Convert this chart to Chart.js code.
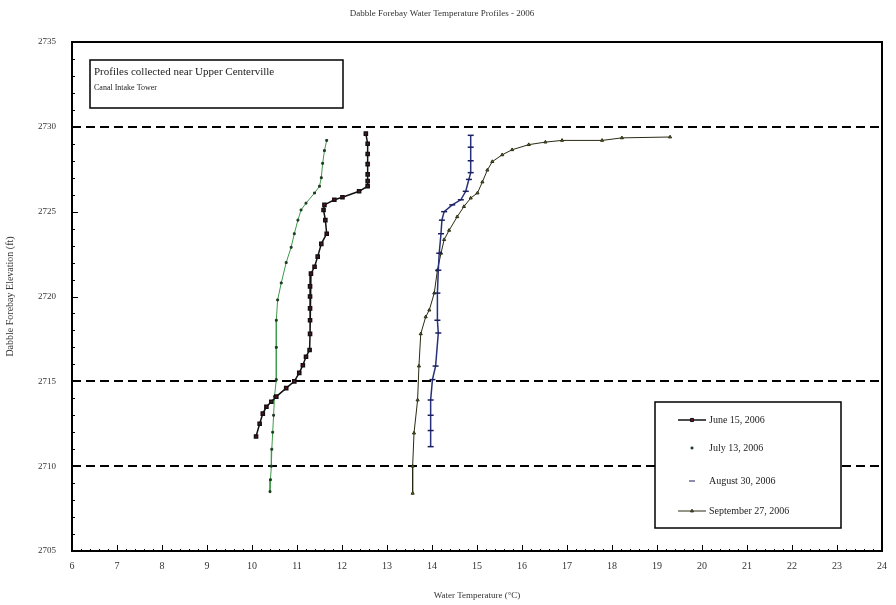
<!DOCTYPE html>
<html>
<head>
<meta charset="utf-8">
<script src="https://cdn.jsdelivr.net/npm/chart.js@4.4.1/dist/chart.umd.min.js"></script>
<style>
  html, body { margin: 0; padding: 0; background: #fff; }
  #wrap { width: 896px; height: 605px; }
</style>
</head>
<body>
<div id="wrap"><canvas id="chart" width="896" height="605"></canvas></div>
<script>
// Profils de température
var juneTemp = [12.53, 12.57, 12.57, 12.57, 12.57, 12.57, 12.57, 12.38, 12.01, 11.83, 11.61, 11.59, 11.63, 11.66, 11.54, 11.46, 11.39, 11.31, 11.29, 11.29, 11.29, 11.29, 11.29, 11.28, 11.20, 11.13, 11.05, 10.94, 10.76, 10.54, 10.43, 10.32, 10.24, 10.17, 10.09];
var juneElev = [2729.6, 2729.0, 2728.4, 2727.8, 2727.2, 2726.8, 2726.5, 2726.2, 2725.85, 2725.7, 2725.4, 2725.1, 2724.5, 2723.7, 2723.1, 2722.35, 2721.75, 2721.35, 2720.6, 2720.0, 2719.3, 2718.6, 2717.8, 2716.85, 2716.45, 2715.95, 2715.5, 2715.0, 2714.6, 2714.1, 2713.8, 2713.5, 2713.1, 2712.5, 2711.75];

var julyTemp = [11.66, 11.61, 11.57, 11.54, 11.50, 11.39, 11.20, 11.09, 11.02, 10.94, 10.87, 10.76, 10.65, 10.57, 10.54, 10.54, 10.54, 10.50, 10.48, 10.46, 10.44, 10.43, 10.41, 10.40];
var julyElev = [2729.2, 2728.6, 2727.85, 2727.0, 2726.5, 2726.1, 2725.5, 2725.1, 2724.5, 2723.7, 2722.9, 2722.0, 2720.8, 2719.8, 2718.6, 2717.0, 2715.1, 2714.1, 2713.0, 2712.0, 2711.0, 2710.0, 2709.2, 2708.5];

var augTemp = [14.86, 14.86, 14.86, 14.86, 14.82, 14.75, 14.64, 14.45, 14.27, 14.22, 14.20, 14.16, 14.14, 14.12, 14.12, 14.14, 14.08, 14.01, 13.97, 13.97, 13.97, 13.97];
var augElev = [2729.5, 2728.8, 2728.0, 2727.3, 2726.9, 2726.2, 2725.7, 2725.4, 2725.0, 2724.5, 2723.7, 2722.55, 2721.55, 2720.2, 2718.6, 2717.85, 2715.9, 2715.1, 2713.9, 2713.0, 2712.1, 2711.15];

var septTemp = [19.29, 18.22, 17.78, 16.89, 16.52, 16.15, 15.78, 15.56, 15.34, 15.23, 15.12, 15.01, 14.86, 14.71, 14.56, 14.38, 14.27, 14.20, 14.12, 14.05, 13.94, 13.86, 13.75, 13.71, 13.68, 13.60, 13.57, 13.57];
var septElev = [2729.4, 2729.35, 2729.2, 2729.2, 2729.1, 2728.95, 2728.65, 2728.35, 2727.95, 2727.45, 2726.75, 2726.1, 2725.8, 2725.3, 2724.7, 2723.9, 2723.35, 2722.55, 2721.55, 2720.2, 2719.2, 2718.8, 2717.8, 2715.9, 2713.9, 2711.95, 2710.0, 2708.4];

var seriesNames = ['June 15, 2006', 'July 13, 2006', 'August 30, 2006', 'September 27, 2006'];
var dashedLevels = [2730, 2715, 2710];
var noteLines = ['Profiles collected near Upper Centerville', 'Canal Intake Tower'];

function toPoints(xs, ys) {
    var pts = [];
    for (var i = 0; i < xs.length; i++) {
        pts.push({ x: xs[i], y: ys[i] });
    }
    return pts;
}

var serif = "'Liberation Serif', 'DejaVu Serif', serif";

// Lignes pointillées, graduations, cadre, note et légende
var extras = {
    id: 'extras',
    beforeDatasetsDraw: function (chart) {
        var ctx = chart.ctx, a = chart.chartArea, ys = chart.scales.y;
        ctx.save();
        ctx.strokeStyle = '#000';
        ctx.lineWidth = 2;
        ctx.setLineDash([9, 5]);
        dashedLevels.forEach(function (lv) {
            var py = Math.round(ys.getPixelForValue(lv));
            ctx.beginPath();
            ctx.moveTo(a.left, py);
            ctx.lineTo(a.right, py);
            ctx.stroke();
        });
        ctx.restore();
    },
    afterDatasetsDraw: function (chart) {
        var ctx = chart.ctx, a = chart.chartArea;
        var xs = chart.scales.x, ys = chart.scales.y;
        ctx.save();
        ctx.strokeStyle = '#000';

        // graduations mineures et majeures
        ctx.lineWidth = 1;
        for (var v = 2705; v <= 2735; v++) {
            var py = Math.round(ys.getPixelForValue(v)) + 0.5;
            var len = (v % 5 === 0) ? 6 : 3;
            ctx.beginPath();
            ctx.moveTo(a.left, py);
            ctx.lineTo(a.left + len, py);
            ctx.stroke();
        }
        for (var k = 0; k <= 90; k++) {
            var t = 6 + k * 0.2;
            var px = Math.round(xs.getPixelForValue(t)) + 0.5;
            var l2 = (k % 5 === 0) ? 6 : 2;
            ctx.beginPath();
            ctx.moveTo(px, a.bottom);
            ctx.lineTo(px, a.bottom - l2);
            ctx.stroke();
        }

        // cadre
        ctx.lineWidth = 2;
        ctx.strokeRect(a.left, a.top, a.right - a.left, a.bottom - a.top);

        // note
        ctx.fillStyle = '#fff';
        ctx.fillRect(90, 60, 253, 48);
        ctx.lineWidth = 1.5;
        ctx.strokeRect(90, 60, 253, 48);
        ctx.fillStyle = '#222';
        ctx.textBaseline = 'middle';
        ctx.textAlign = 'left';
        ctx.font = '11px ' + serif;
        ctx.fillText(noteLines[0], 94, 72);
        ctx.font = '8px ' + serif;
        ctx.fillText(noteLines[1], 94, 88);

        // légende
        ctx.fillStyle = '#fff';
        ctx.fillRect(655, 402, 186, 126);
        ctx.lineWidth = 1.5;
        ctx.strokeStyle = '#000';
        ctx.strokeRect(655, 402, 186, 126);
        var rows = [420, 448, 481, 511];
        chart.data.datasets.forEach(function (ds, i) {
            var yy = rows[i];
            if (ds.legendLine) {
                ctx.strokeStyle = ds.borderColor;
                ctx.lineWidth = ds.borderWidth;
                ctx.beginPath();
                ctx.moveTo(678, yy);
                ctx.lineTo(706, yy);
                ctx.stroke();
            }
            ctx.fillStyle = ds.pointBackgroundColor;
            ctx.strokeStyle = ds.pointBorderColor;
            ctx.lineWidth = 1;
            Chart.helpers.drawPoint(ctx, {
                pointStyle: ds.pointStyle,
                radius: ds.pointRadius,
                borderWidth: 1
            }, 692, yy);
            ctx.fillStyle = '#222';
            ctx.font = '10px ' + serif;
            ctx.fillText(seriesNames[i], 709, yy);
        });
        ctx.restore();
    }
};

var ctx = document.getElementById('chart').getContext('2d');
var myChart = new Chart(ctx, {
    type: 'scatter',
    data: {
        datasets: [{
            label: seriesNames[0],
            data: toPoints(juneTemp, juneElev),
            showLine: true,
            borderColor: '#111',
            backgroundColor: '#6e1020',
            borderWidth: 1.5,
            pointStyle: 'rect',
            pointRadius: 2.2,
            pointBorderColor: '#111',
            pointBackgroundColor: '#6e1020',
            legendLine: true
        }, {
            label: seriesNames[1],
            data: toPoints(julyTemp, julyElev),
            showLine: true,
            borderColor: '#3f9a4a',
            backgroundColor: '#1e3a22',
            borderWidth: 1,
            pointStyle: 'rect',
            pointRadius: 1.3,
            pointBorderColor: '#1e3a22',
            pointBackgroundColor: '#1e3a22',
            legendLine: false
        }, {
            label: seriesNames[2],
            data: toPoints(augTemp, augElev),
            showLine: true,
            borderColor: '#27307a',
            backgroundColor: '#1a1f5e',
            borderWidth: 1.5,
            pointStyle: 'line',
            pointRadius: 3,
            pointBorderColor: '#1a1f5e',
            pointBackgroundColor: '#1a1f5e',
            legendLine: false
        }, {
            label: seriesNames[3],
            data: toPoints(septTemp, septElev),
            showLine: true,
            borderColor: '#2a2a14',
            backgroundColor: '#6f7a20',
            borderWidth: 1,
            pointStyle: 'triangle',
            pointRadius: 1.8,
            pointBorderColor: '#2a2a14',
            pointBackgroundColor: '#6f7a20',
            legendLine: true
        }]
    },
    options: {
        responsive: false,
        animation: false,
        layout: { padding: { left: 0, right: 12, top: 0, bottom: 0 } },
        plugins: {
            legend: { display: false },
            tooltip: { enabled: false },
            title: {
                display: true,
                text: 'Dabble Forebay Water Temperature Profiles - 2006',
                color: '#333',
                font: { family: serif, size: 9, weight: 'normal' },
                padding: { top: 8, bottom: 23.2 }
            }
        },
        scales: {
            x: {
                type: 'linear',
                min: 6,
                max: 24,
                grid: { display: false, drawTicks: false },
                border: { display: false },
                ticks: {
                    stepSize: 1,
                    padding: 9,
                    color: '#333',
                    font: { family: serif, size: 10 }
                },
                title: {
                    display: true,
                    text: 'Water Temperature (°C)',
                    color: '#333',
                    font: { family: serif, size: 9 },
                    padding: { top: 8 }
                },
                afterFit: function (scale) { scale.height = 54; }
            },
            y: {
                type: 'linear',
                min: 2705,
                max: 2735,
                grid: { display: false, drawTicks: false },
                border: { display: false },
                ticks: {
                    stepSize: 5,
                    padding: 16,
                    color: '#333',
                    font: { family: serif, size: 9 },
                    callback: function (v) { return String(v); }
                },
                title: {
                    display: true,
                    text: 'Dabble Forebay Elevation (ft)',
                    color: '#333',
                    font: { family: serif, size: 10 },
                    padding: { bottom: 2 }
                },
                afterFit: function (scale) { scale.width = 72; }
            }
        }
    },
    plugins: [extras]
});
</script>
</body>
</html>
